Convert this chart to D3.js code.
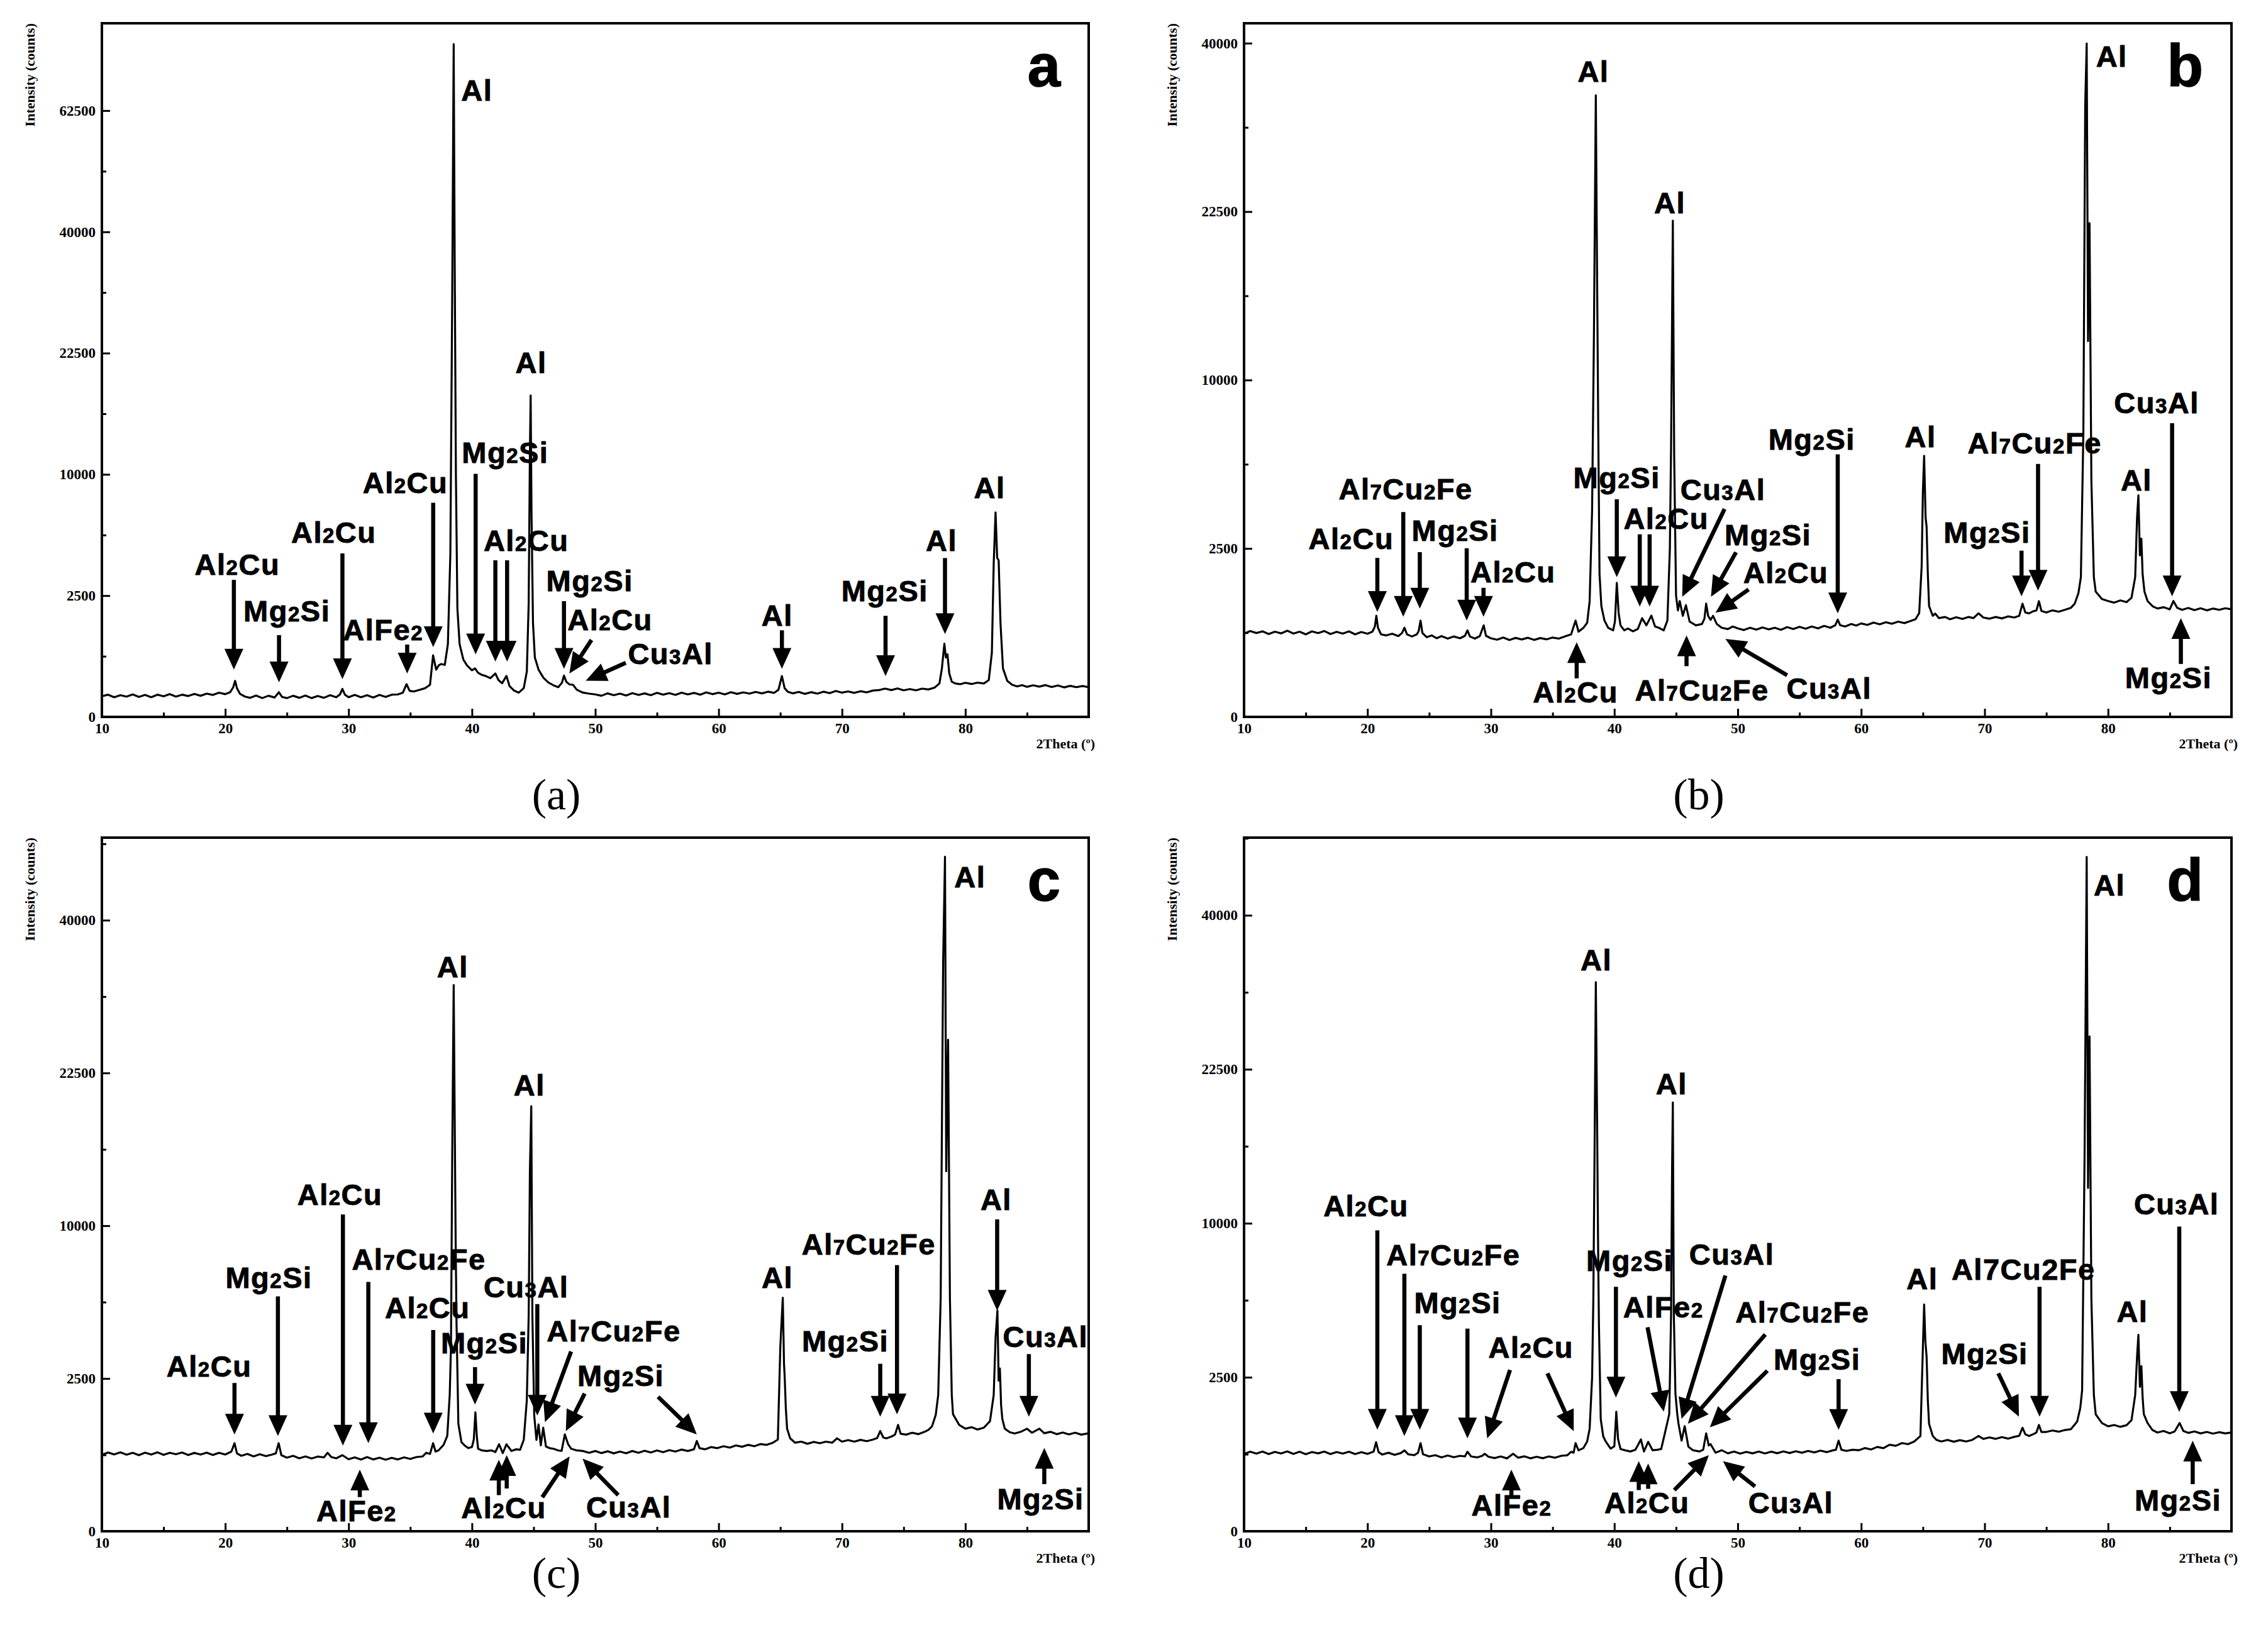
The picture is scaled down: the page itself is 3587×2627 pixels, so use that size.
<!DOCTYPE html>
<html>
<head>
<meta charset="utf-8">
<script src="https://cdn.jsdelivr.net/npm/d3@7"></script>
<style>
  body { margin: 0; background: #fff; }
  svg { display: block; }
  .tick text { font-family: "Liberation Serif", "Times New Roman", serif; font-weight: bold; font-size: 23px; fill: #000; }
  .tick line { stroke: #000; stroke-width: 3; }
  .note { font-family: "Liberation Sans", Arial, sans-serif; font-weight: bold; font-size: 47px; letter-spacing: 1.5px; fill: #000; stroke: #000; stroke-width: 0.9px; }
  .axtitle { font-family: "Liberation Serif", "Times New Roman", serif; font-weight: bold; font-size: 22px; fill: #000; }
  .letter { font-family: "Liberation Sans", Arial, sans-serif; font-weight: bold; font-size: 94px; fill: #000; stroke: #000; stroke-width: 1.5px; }
  .caption { font-family: "Liberation Serif", "Times New Roman", serif; font-size: 70px; fill: #000; }
</style>
</head>
<body>
<div id="chart"></div>
<script>
// x ticks (2Theta, degrees) and y ticks (counts, square-root axis)
const xMajor = [10, 20, 30, 40, 50, 60, 70, 80];
const xMinor = [15, 25, 35, 45, 55, 65, 75, 85];
const yMajor = [0, 2500, 10000, 22500, 40000, 62500];
const yMinor = [625, 5625, 15625, 30625, 50625];

// diffraction traces: [2theta, counts]
const traceA = [
  [10,72],[10.5,84],[11,66],[11.5,80],[12,70],[12.5,86],[13,68],[13.5,82],[14,66],[14.5,84],[15,72],[15.5,88],[16,70],[16.5,84],[17,74],[17.5,90],[18,76],[18.5,92],[19,82],[19.5,100],[20,88],[20.4,104],[20.65,150],[20.8,221],[20.95,140],[21.2,90],[21.6,70],[22,62],[22.5,78],[23,60],[23.5,76],[24,64],[24.35,104],[24.6,68],[25,60],[25.5,76],[26,62],[26.5,78],[27,60],[27.5,74],[28,62],[28.5,80],[29,66],[29.3,86],[29.5,133],[29.7,84],[30,66],[30.5,82],[31,66],[31.5,80],[32,64],[32.5,82],[33,68],[33.5,84],[34,86],[34.4,100],[34.7,182],[34.95,115],[35.3,110],[35.8,126],[36.2,140],[36.6,175],[36.85,645],[37.1,380],[37.3,450],[37.5,475],[37.8,460],[38.05,900],[38.25,4500],[38.4,30000],[38.52,76950],[38.6,36290],[38.7,10000],[38.82,2000],[39.0,900],[39.3,560],[39.6,450],[40.0,370],[40.25,400],[40.5,330],[40.8,300],[41.1,285],[41.5,255],[41.9,320],[42.15,230],[42.45,193],[42.8,285],[43.05,160],[43.4,119],[43.8,100],[44.2,140],[44.45,350],[44.6,2200],[44.7,12000],[44.76,17560],[44.83,7000],[44.95,1500],[45.1,600],[45.4,380],[45.8,260],[46.2,200],[46.6,170],[47.0,150],[47.3,200],[47.46,290],[47.65,210],[47.9,180],[48.2,175],[48.5,125],[49.0,100],[49.5,92],[50,86],[50.5,76],[51,94],[51.5,80],[52,92],[52.5,78],[53,96],[53.5,82],[54,94],[54.5,80],[55,98],[55.5,84],[56,96],[56.5,82],[57,100],[57.5,86],[58,98],[58.5,84],[59,102],[59.5,88],[60,100],[60.5,86],[61,104],[61.5,90],[62,102],[62.5,92],[63,106],[63.5,94],[64,108],[64.5,98],[64.85,125],[65.13,284],[65.35,140],[65.6,108],[66,94],[66.5,106],[67,90],[67.5,104],[68,92],[68.5,108],[69,96],[69.5,114],[70,100],[70.5,110],[71,98],[71.5,112],[72,102],[72.5,118],[73,122],[73.5,136],[74,122],[74.5,138],[75,120],[75.5,132],[76,120],[76.5,136],[77,128],[77.5,145],[77.9,190],[78.1,400],[78.3,910],[78.42,600],[78.55,666],[78.7,320],[78.9,210],[79.2,190],[79.6,182],[80,198],[80.5,184],[81,200],[81.5,190],[81.9,230],[82.15,700],[82.3,4000],[82.45,7110],[82.58,4300],[82.7,4170],[82.85,1500],[83.05,400],[83.4,220],[83.8,175],[84.2,158],[84.6,172],[85,154],[85.5,170],[86,156],[86.5,172],[87,152],[87.5,168],[88,148],[88.5,164],[89,150],[89.5,162],[90,150]
];

const traceB = [
  [10,610],[10.5,650],[11,620],[11.5,645],[12,605],[12.5,640],[13,615],[13.5,655],[14,612],[14.5,640],[15,600],[15.5,645],[16,618],[16.5,650],[17,605],[17.5,638],[18,612],[18.5,645],[19,600],[19.5,635],[20,610],[20.4,640],[20.6,720],[20.72,903],[20.85,700],[21.1,600],[21.5,585],[22,610],[22.5,575],[22.8,620],[23.0,700],[23.2,600],[23.6,570],[24.0,600],[24.15,650],[24.3,818],[24.45,620],[24.8,560],[25.2,585],[25.6,545],[26,575],[26.5,540],[27,570],[27.5,545],[27.9,580],[28.1,660],[28.3,570],[28.7,540],[29.1,575],[29.42,739],[29.6,580],[30,545],[30.5,525],[31,555],[31.5,520],[32,550],[32.5,528],[33,552],[33.5,522],[34,548],[34.5,530],[35,555],[35.5,540],[36,570],[36.5,600],[36.86,818],[37.1,640],[37.5,700],[37.8,780],[38.0,1176],[38.2,3780],[38.35,13090],[38.5,34040],[38.6,17690],[38.7,7120],[38.8,1800],[38.95,1082],[39.2,818],[39.5,700],[39.9,660],[40.05,800],[40.2,1585],[40.35,950],[40.5,739],[40.8,660],[41.1,690],[41.5,645],[41.9,680],[42.25,858],[42.6,739],[43.0,903],[43.3,720],[43.6,700],[44.0,660],[44.3,818],[44.5,2500],[44.6,6530],[44.74,21700],[44.85,6000],[45.0,1300],[45.15,1000],[45.3,1183],[45.55,900],[45.8,1100],[46.1,800],[46.6,739],[47.1,760],[47.3,850],[47.44,1130],[47.6,900],[47.8,830],[48.0,900],[48.3,760],[48.7,700],[49.2,680],[49.6,720],[50,690],[50.5,665],[51,700],[51.5,670],[52,705],[52.5,675],[53,700],[53.5,668],[54,710],[54.5,680],[55,715],[55.5,685],[56,720],[56.5,690],[57,730],[57.5,700],[57.9,740],[58.1,834],[58.3,740],[58.7,720],[59.2,760],[59.6,735],[60,770],[60.5,745],[61,785],[61.5,755],[62,790],[62.5,765],[63,800],[63.5,775],[64,810],[64.4,840],[64.7,950],[64.9,2000],[65.0,4500],[65.1,6010],[65.22,3500],[65.3,3190],[65.4,1800],[65.5,1082],[65.8,900],[66.0,940],[66.3,860],[66.8,880],[67.2,840],[67.7,875],[68.2,845],[68.7,880],[69.1,860],[69.5,945],[69.9,870],[70.4,850],[70.9,880],[71.4,855],[71.9,890],[72.4,870],[72.8,900],[73.07,1130],[73.3,960],[73.6,945],[73.9,980],[74.2,1000],[74.4,1180],[74.6,990],[75,960],[75.5,1000],[76,975],[76.5,1010],[77,1050],[77.3,1130],[77.6,1350],[77.8,1722],[78.0,7120],[78.15,33000],[78.27,39960],[78.38,12450],[78.5,21490],[78.65,4915],[78.85,1722],[79.0,1384],[79.5,1225],[80,1183],[80.5,1150],[81,1195],[81.5,1160],[81.9,1250],[82.2,1722],[82.35,3500],[82.46,4330],[82.58,2300],[82.7,2800],[82.8,1800],[82.95,1384],[83.2,1183],[83.6,1080],[84,1035],[84.5,1060],[85,1020],[85.3,1183],[85.6,1050],[86,1010],[86.5,1045],[87,1005],[87.5,1040],[88,1000],[88.5,1035],[89,1010],[89.5,1040],[90,1020]
];

const traceC = [
  [10,625],[10.5,665],[11,632],[11.5,668],[12,628],[12.5,660],[13,620],[13.5,662],[14,630],[14.5,668],[15,625],[15.5,660],[16,635],[16.5,665],[17,622],[17.5,658],[18,630],[18.5,662],[19,624],[19.5,660],[20,630],[20.5,680],[20.75,831],[20.95,650],[21.3,610],[21.8,640],[22.3,600],[22.8,635],[23.3,605],[23.8,630],[24.1,650],[24.33,831],[24.55,620],[25,580],[25.5,610],[26,570],[26.5,600],[27,568],[27.5,598],[28,585],[28.3,660],[28.6,590],[29,570],[29.5,620],[30,555],[30.5,585],[31,550],[31.5,590],[32,552],[32.5,580],[33,548],[33.5,578],[34,552],[34.5,585],[35,560],[35.5,590],[36,600],[36.3,660],[36.6,640],[36.85,831],[37.05,680],[37.3,702],[37.7,800],[38.0,973],[38.2,2000],[38.3,3645],[38.4,14840],[38.52,31970],[38.6,18710],[38.68,9000],[38.75,4650],[38.9,1237],[39.15,850],[39.4,790],[39.7,740],[40.0,760],[40.15,900],[40.28,1515],[40.4,950],[40.5,730],[40.8,700],[41.2,691],[41.6,700],[41.9,672],[42.2,810],[42.5,654],[42.8,810],[43.2,691],[43.6,720],[43.9,710],[44.2,894],[44.45,1842],[44.6,5000],[44.7,14000],[44.81,19360],[44.9,5000],[45.05,1434],[45.23,894],[45.4,1222],[45.58,790],[45.78,1148],[46.0,769],[46.3,740],[46.6,730],[47.0,700],[47.27,691],[47.53,1005],[47.8,810],[48.04,730],[48.5,700],[49.0,690],[49.5,660],[50,690],[50.5,655],[51,685],[51.5,650],[52,680],[52.5,652],[53,690],[53.5,660],[54,695],[54.5,665],[55,700],[55.5,670],[56,705],[56.5,680],[57,715],[57.5,690],[58.0,720],[58.23,873],[58.45,740],[58.9,720],[59.4,760],[59.9,740],[60.4,775],[60.9,750],[61.4,790],[61.9,765],[62.4,800],[62.9,775],[63.4,815],[63.9,800],[64.4,840],[64.8,900],[65.0,3645],[65.2,5840],[65.3,3000],[65.35,2590],[65.45,1600],[65.55,1127],[65.8,925],[66.2,840],[66.7,860],[67.2,820],[67.7,855],[68.2,830],[68.7,860],[69.2,840],[69.6,925],[70.0,860],[70.5,890],[71,860],[71.5,895],[72,870],[72.5,900],[72.85,930],[73.1,1075],[73.35,940],[73.6,925],[74.0,960],[74.3,1000],[74.55,1212],[74.75,1020],[75.2,1000],[75.7,1040],[76.2,1010],[76.7,1060],[77.0,1100],[77.3,1180],[77.6,1450],[77.8,1990],[78.0,5800],[78.2,34750],[78.35,48740],[78.45,13890],[78.6,25880],[78.75,5800],[78.9,1990],[79.0,1467],[79.5,1212],[80,1127],[80.5,1160],[81,1110],[81.5,1150],[82.0,1300],[82.3,1990],[82.45,4000],[82.6,5210],[82.7,2430],[82.8,2840],[82.9,1700],[83.0,1348],[83.2,1127],[83.6,1050],[84,1024],[84.5,1060],[85,1127],[85.4,1040],[86,1127],[86.4,1030],[86.9,1060],[87.4,1010],[87.9,1045],[88.4,1005],[88.9,1040],[89.4,1000],[90,1030]
];

const traceD = [
  [10,630],[10.5,668],[11,635],[11.5,670],[12,628],[12.5,664],[13,638],[13.5,672],[14,630],[14.5,666],[15,626],[15.5,662],[16,640],[16.5,670],[17,628],[17.5,662],[18,636],[18.5,668],[19,628],[19.5,660],[20,632],[20.5,670],[20.7,837],[20.9,660],[21.2,620],[21.7,650],[22.2,615],[22.7,645],[23.0,690],[23.3,625],[23.8,610],[24.1,650],[24.3,819],[24.5,625],[25,590],[25.5,610],[26,575],[26.5,605],[27,578],[27.5,600],[27.9,590],[28.1,666],[28.4,590],[28.9,575],[29.3,600],[29.5,633],[29.8,585],[30.3,565],[30.8,590],[31.3,560],[31.8,633],[32.2,570],[32.7,592],[33.2,560],[33.7,585],[34.2,562],[34.7,590],[35.2,570],[35.7,600],[36.2,610],[36.5,666],[36.7,650],[36.86,819],[37.1,690],[37.5,731],[37.8,850],[38.0,1108],[38.2,2500],[38.3,5700],[38.4,15360],[38.5,31790],[38.6,18410],[38.68,9000],[38.75,4580],[38.9,1326],[39.1,950],[39.3,850],[39.7,720],[40.0,760],[40.16,1507],[40.3,900],[40.5,713],[40.9,690],[41.3,671],[41.7,700],[41.9,776],[42.15,889],[42.4,671],[42.74,843],[43.1,692],[43.5,700],[43.8,713],[44.18,1110],[44.45,1446],[44.6,5000],[44.68,14000],[44.74,19390],[44.82,5000],[44.95,2000],[45.1,1446],[45.2,1218],[45.45,866],[45.7,1164],[46.0,755],[46.37,692],[46.9,671],[47.2,700],[47.44,1011],[47.65,776],[47.8,800],[48.2,651],[48.7,692],[49.2,640],[49.7,670],[50.2,635],[50.7,665],[51.2,640],[51.7,670],[52.2,638],[52.7,668],[53.2,642],[53.7,672],[54.2,645],[54.7,675],[55.2,650],[55.7,680],[56.2,655],[56.7,685],[57.2,660],[57.7,690],[57.95,700],[58.17,866],[58.4,700],[58.8,680],[59.3,700],[59.8,692],[60.3,730],[60.8,705],[61.3,750],[61.8,728],[62.3,790],[62.8,770],[63.3,820],[63.8,800],[64.3,850],[64.8,957],[65.0,3580],[65.1,5420],[65.2,3800],[65.3,3220],[65.4,1800],[65.5,1216],[65.8,957],[66.1,880],[66.5,850],[67.0,880],[67.5,845],[68.0,875],[68.5,850],[69.0,880],[69.5,957],[69.9,900],[70.4,928],[70.9,900],[71.4,935],[71.9,905],[72.4,940],[72.8,960],[73.07,1129],[73.3,990],[73.6,957],[74.0,1000],[74.2,1030],[74.4,1192],[74.6,1040],[75,1040],[75.5,1070],[76,1045],[76.5,1080],[77,1100],[77.5,1270],[77.75,1600],[77.9,2097],[78.1,14970],[78.27,47940],[78.38,12430],[78.5,25820],[78.65,5700],[78.85,1960],[79.0,1443],[79.5,1236],[80,1161],[80.5,1190],[81,1150],[81.5,1185],[81.9,1300],[82.2,1960],[82.35,3200],[82.46,4070],[82.58,2200],[82.7,2875],[82.8,1900],[82.9,1443],[83.2,1236],[83.6,1080],[84,1027],[84.5,1060],[85,1010],[85.4,1050],[85.8,1236],[86.1,1060],[86.5,1020],[87,1050],[87.5,1010],[88,1040],[88.5,1005],[89,1035],[89.5,1010],[90,1030]
];

// phase labels: label centre (deg) / baseline (counts), arrows [tail deg, tail counts, tip deg, tip counts]
const notesA = [
  {t: 'Al2Cu', lx: 20.98, ly: 3434, a: [[20.7, 3192, 20.7, 380]]},
  {t: 'Mg2Si', lx: 25.0, ly: 1544, a: [[24.36, 1136, 24.36, 204]]},
  {t: 'Al2Cu', lx: 28.8, ly: 5160, a: [[29.5, 4545, 29.5, 242]]},
  {t: 'AlFe2', lx: 32.8, ly: 1007, a: [[34.75, 890, 34.75, 320]]},
  {t: 'Al2Cu', lx: 34.6, ly: 8520, a: [[36.86, 7797, 36.86, 829]]},
  {t: 'Al', lx: 40.4, ly: 64516, a: []},
  {t: 'Mg2Si', lx: 42.7, ly: 10983, a: [[40.3, 10040, 40.3, 666]]},
  {t: 'Al2Cu', lx: 44.4, ly: 4690, a: [[41.9, 4170, 41.9, 520], [42.85, 4170, 42.85, 520]]},
  {t: 'Al', lx: 44.8, ly: 20130, a: []},
  {t: 'Mg2Si', lx: 49.55, ly: 2700, a: [[47.46, 2277, 47.46, 393]]},
  {t: 'Al2Cu', lx: 51.2, ly: 1275, a: [[49.69, 1007, 47.9, 320]]},
  {t: 'Cu3Al', lx: 56.1, ly: 475, a: [[52.47, 497, 49.23, 222]]},
  {t: 'Al', lx: 64.75, ly: 1421, a: [[65.13, 1275, 65.13, 393]]},
  {t: 'Mg2Si', lx: 73.47, ly: 2266, a: [[73.53, 1737, 73.53, 284]]},
  {t: 'Al', lx: 78.07, ly: 4690, a: [[78.35, 4290, 78.35, 1165]]},
  {t: 'Al', lx: 81.97, ly: 8150, a: []}
];

const notesB = [
  {t: 'Al2Cu', lx: 18.68, ly: 2476, a: [[20.8, 2228, 20.8, 972]]},
  {t: 'Al7Cu2Fe', lx: 23.1, ly: 4175, a: [[22.9, 3696, 22.9, 884]]},
  {t: 'Mg2Si', lx: 27.1, ly: 2725, a: [[24.24, 2392, 24.24, 1035], [28.04, 2506, 28.04, 818]]},
  {t: 'Al2Cu', lx: 31.8, ly: 1603, a: [[29.4, 1468, 29.4, 884]]},
  {t: 'Al', lx: 38.3, ly: 35530, a: []},
  {t: 'Mg2Si', lx: 40.2, ly: 4614, a: [[40.2, 4175, 40.2, 1722]]},
  {t: 'Al2Cu', lx: 44.2, ly: 3117, a: [[42.06, 2938, 42.06, 1074], [42.86, 2938, 42.86, 1074]]},
  {t: 'Al', lx: 44.5, ly: 22350, a: []},
  {t: 'Cu3Al', lx: 48.8, ly: 4147, a: [[48.93, 3810, 45.5, 1271]]},
  {t: 'Mg2Si', lx: 52.45, ly: 2602, a: [[49.86, 2388, 47.83, 1271]]},
  {t: 'Al2Cu', lx: 53.9, ly: 1578, a: [[50.88, 1430, 48.2, 957]]},
  {t: 'Al2Cu', lx: 36.86, ly: 18, a: [[36.95, 131, 36.95, 491]]},
  {t: 'Al7Cu2Fe', lx: 47.1, ly: 24, a: [[45.85, 227, 45.85, 585]]},
  {t: 'Cu3Al', lx: 57.4, ly: 29, a: [[54.0, 153, 49.0, 535]]},
  {t: 'Mg2Si', lx: 56.0, ly: 6300, a: [[58.1, 6075, 58.1, 945]]},
  {t: 'Al', lx: 64.8, ly: 6410, a: []},
  {t: 'Mg2Si', lx: 70.2, ly: 2680, a: [[72.99, 2435, 72.99, 1280]]},
  {t: 'Al7Cu2Fe', lx: 74.06, ly: 6115, a: [[74.33, 5640, 74.33, 1403]]},
  {t: 'Al', lx: 80.3, ly: 37290, a: []},
  {t: 'Al', lx: 82.3, ly: 4516, a: []},
  {t: 'Cu3Al', lx: 83.94, ly: 8118, a: [[85.19, 7604, 85.19, 1280]]},
  {t: 'Mg2Si', lx: 84.9, ly: 74, a: [[85.9, 247, 85.9, 859]]}
];

const notesC = [
  {t: 'Al2Cu', lx: 18.7, ly: 2560, a: [[20.75, 2355, 20.75, 1003]]},
  {t: 'Mg2Si', lx: 23.54, ly: 6332, a: [[24.27, 5912, 24.27, 973]]},
  {t: 'Al2Cu', lx: 29.3, ly: 11410, a: [[29.54, 10750, 29.54, 787]]},
  {t: 'Al7Cu2Fe', lx: 35.7, ly: 7320, a: [[31.6, 6663, 31.6, 832]]},
  {t: 'Al2Cu', lx: 36.4, ly: 4873, a: [[36.86, 4340, 36.86, 1024]]},
  {t: 'Al', lx: 38.44, ly: 32900, a: []},
  {t: 'Mg2Si', lx: 41.0, ly: 3400, a: [[40.25, 2885, 40.25, 1720]]},
  {t: 'Al', lx: 44.66, ly: 20340, a: []},
  {t: 'Cu3Al', lx: 44.4, ly: 5852, a: [[45.3, 5526, 45.3, 1434]]},
  {t: 'Al7Cu2Fe', lx: 51.5, ly: 3851, a: [[48.04, 3460, 45.92, 1274]]},
  {t: 'Mg2Si', lx: 52.07, ly: 2266, a: [[49.14, 2033, 47.61, 1076], [55.09, 1936, 58.23, 1005]]},
  {t: 'Al2Cu', lx: 42.58, ly: 18, a: [[42.18, 140, 42.18, 548], [42.82, 196, 42.82, 619], [45.7, 124, 47.92, 600]]},
  {t: 'Cu3Al', lx: 52.71, ly: 21, a: [[51.86, 140, 48.97, 565]]},
  {t: 'AlFe2', lx: 30.64, ly: 11, a: [[30.91, 125, 30.91, 407]]},
  {t: 'Al', lx: 64.76, ly: 6332, a: []},
  {t: 'Mg2Si', lx: 70.27, ly: 3455, a: [[73.1, 3006, 73.1, 1406]]},
  {t: 'Al7Cu2Fe', lx: 72.17, ly: 8210, a: [[74.46, 7590, 74.46, 1467]]},
  {t: 'Al', lx: 80.38, ly: 44440, a: []},
  {t: 'Al', lx: 82.5, ly: 11080, a: [[82.58, 10420, 82.58, 5210]]},
  {t: 'Cu3Al', lx: 86.5, ly: 3645, a: [[85.15, 3363, 85.15, 1406]]},
  {t: 'Mg2Si', lx: 86.1, ly: 53, a: [[86.4, 238, 86.4, 743]]}
];

const notesD = [
  {t: 'Al2Cu', lx: 19.88, ly: 10480, a: [[20.8, 9544, 20.8, 1088]]},
  {t: 'Al7Cu2Fe', lx: 26.96, ly: 7466, a: [[22.99, 6991, 22.99, 957]]},
  {t: 'Mg2Si', lx: 27.3, ly: 5013, a: [[24.24, 4475, 24.24, 1088], [28.1, 4330, 28.1, 910]]},
  {t: 'Al2Cu', lx: 33.25, ly: 3181, a: [[31.55, 2742, 29.7, 910], [34.58, 2628, 36.71, 1058]]},
  {t: 'Al', lx: 38.54, ly: 33140, a: []},
  {t: 'Mg2Si', lx: 41.24, ly: 7150, a: [[40.13, 6300, 40.13, 1886]]},
  {t: 'AlFe2', lx: 43.97, ly: 4807, a: [[42.69, 4385, 44.01, 1507]]},
  {t: 'Al', lx: 44.64, ly: 20130, a: []},
  {t: 'Cu3Al', lx: 49.52, ly: 7496, a: [[49.0, 6893, 45.45, 1331]]},
  {t: 'Al7Cu2Fe', lx: 55.24, ly: 4593, a: [[52.23, 4080, 45.96, 1218]]},
  {t: 'Mg2Si', lx: 56.43, ly: 2757, a: [[52.4, 2715, 47.74, 1138], [58.17, 2440, 58.17, 1084]]},
  {t: 'Al2Cu', lx: 42.65, ly: 35, a: [[41.98, 179, 41.98, 518], [42.74, 190, 42.74, 484], [44.86, 179, 47.66, 611]]},
  {t: 'Cu3Al', lx: 54.3, ly: 35, a: [[51.4, 212, 48.8, 518]]},
  {t: 'AlFe2', lx: 31.68, ly: 27, a: [[31.66, 130, 31.66, 400]]},
  {t: 'Al', lx: 64.94, ly: 6178, a: []},
  {t: 'Mg2Si', lx: 70.0, ly: 2959, a: [[71.11, 2628, 72.78, 1384]]},
  {t: 'Al7Cu2Fe', lx: 73.15, ly: 6680, a: [[74.45, 6300, 74.45, 1384]], plain: true},
  {t: 'Al', lx: 80.12, ly: 42600, a: []},
  {t: 'Al', lx: 81.97, ly: 4624, a: []},
  {t: 'Cu3Al', lx: 85.55, ly: 10570, a: [[85.77, 9790, 85.77, 1503]]},
  {t: 'Mg2Si', lx: 85.67, ly: 45, a: [[86.86, 234, 86.86, 864]]}
];

const panels = [
  {key: 'a', trace: traceA, notes: notesA, yMax: 81800, left: 162, right: 1731, top: 37, bottom: 1140, capY: 1287},
  {key: 'b', trace: traceB, notes: notesB, yMax: 42400, left: 1978, right: 3548, top: 37, bottom: 1140, capY: 1287},
  {key: 'c', trace: traceC, notes: notesC, yMax: 51540, left: 162, right: 1731, top: 1332, bottom: 2435, capY: 2525},
  {key: 'd', trace: traceD, notes: notesD, yMax: 50720, left: 1978, right: 3548, top: 1332, bottom: 2435, capY: 2525}
];

const svg = d3.select('#chart').append('svg')
    .attr('width', 3587)
    .attr('height', 2627);

// label with small digits sitting on the baseline (Al2Cu etc.)
function addLabel(g, note, px, py) {
  const t = g.append('text')
      .attr('class', 'note')
      .attr('x', px)
      .attr('y', py)
      .attr('text-anchor', 'middle');
  note.t.match(/[A-Za-z]+|\d+/g).forEach(part => {
    const s = t.append('tspan').text(part);
    if (/\d/.test(part) && !note.plain) s.attr('font-size', 33);
  });
}

function addArrow(g, x1, y1, x2, y2) {
  const dx = x2 - x1, dy = y2 - y1;
  const len = Math.hypot(dx, dy);
  const ux = dx / len, uy = dy / len;
  const hl = 33, hw = 15;
  const bx = x2 - ux * hl, by = y2 - uy * hl;
  g.append('line')
      .attr('x1', x1).attr('y1', y1)
      .attr('x2', bx + ux * 3).attr('y2', by + uy * 3)
      .attr('stroke', '#000')
      .attr('stroke-width', 6.5);
  g.append('path')
      .attr('d', `M${x2},${y2}L${bx - uy * hw},${by + ux * hw}L${bx + uy * hw},${by - ux * hw}Z`)
      .attr('fill', '#000');
}

panels.forEach(p => {
  const x = d3.scaleLinear().domain([10, 90]).range([p.left, p.right]);
  const y = d3.scaleSqrt().domain([0, p.yMax]).range([p.bottom, p.top]);
  const g = svg.append('g');

  // ticks point inward
  g.append('g')
      .attr('transform', `translate(0,${p.bottom})`)
      .call(d3.axisBottom(x).tickValues(xMajor).tickSize(-13).tickPadding(10).tickFormat(d3.format('d')))
      .call(s => s.select('.domain').remove());
  g.append('g')
      .attr('transform', `translate(0,${p.bottom})`)
      .call(d3.axisBottom(x).tickValues(xMinor).tickSize(-7).tickFormat(''))
      .call(s => s.select('.domain').remove());
  g.append('g')
      .attr('transform', `translate(${p.left},0)`)
      .call(d3.axisLeft(y).tickValues(yMajor.filter(v => v <= p.yMax)).tickSize(-13).tickPadding(10).tickFormat(d3.format('d')))
      .call(s => s.select('.domain').remove());
  g.append('g')
      .attr('transform', `translate(${p.left},0)`)
      .call(d3.axisLeft(y).tickValues(yMinor.filter(v => v <= p.yMax)).tickSize(-7).tickFormat(''))
      .call(s => s.select('.domain').remove());

  g.append('rect')
      .attr('x', p.left)
      .attr('y', p.top)
      .attr('width', p.right - p.left)
      .attr('height', p.bottom - p.top)
      .attr('fill', 'none')
      .attr('stroke', '#000')
      .attr('stroke-width', 4);

  const line = d3.line().x(d => x(d[0])).y(d => y(d[1]));
  g.append('path')
      .datum(p.trace)
      .attr('d', line)
      .attr('fill', 'none')
      .attr('stroke', '#000')
      .attr('stroke-width', 3.2)
      .attr('stroke-linejoin', 'round');

  p.notes.forEach(n => {
    addLabel(g, n, x(n.lx), y(n.ly));
    n.a.forEach(a => addArrow(g, x(a[0]), y(a[1]), x(a[2]), y(a[3])));
  });

  g.append('text')
      .attr('class', 'axtitle')
      .attr('transform', `translate(${p.left - 107},${p.top}) rotate(-90)`)
      .attr('text-anchor', 'end')
      .text('Intensity (counts)');

  g.append('text')
      .attr('class', 'axtitle')
      .attr('x', p.right + 10)
      .attr('y', p.bottom + 50)
      .attr('text-anchor', 'end')
      .text('2Theta (º)');

  g.append('text')
      .attr('class', 'letter')
      .attr('x', p.right - 45)
      .attr('y', p.top + 100)
      .attr('text-anchor', 'end')
      .text(p.key);

  svg.append('text')
      .attr('class', 'caption')
      .attr('x', (p.left + p.right) / 2 - 62)
      .attr('y', p.capY)
      .attr('text-anchor', 'middle')
      .text(`(${p.key})`);
});
</script>
</body>
</html>
